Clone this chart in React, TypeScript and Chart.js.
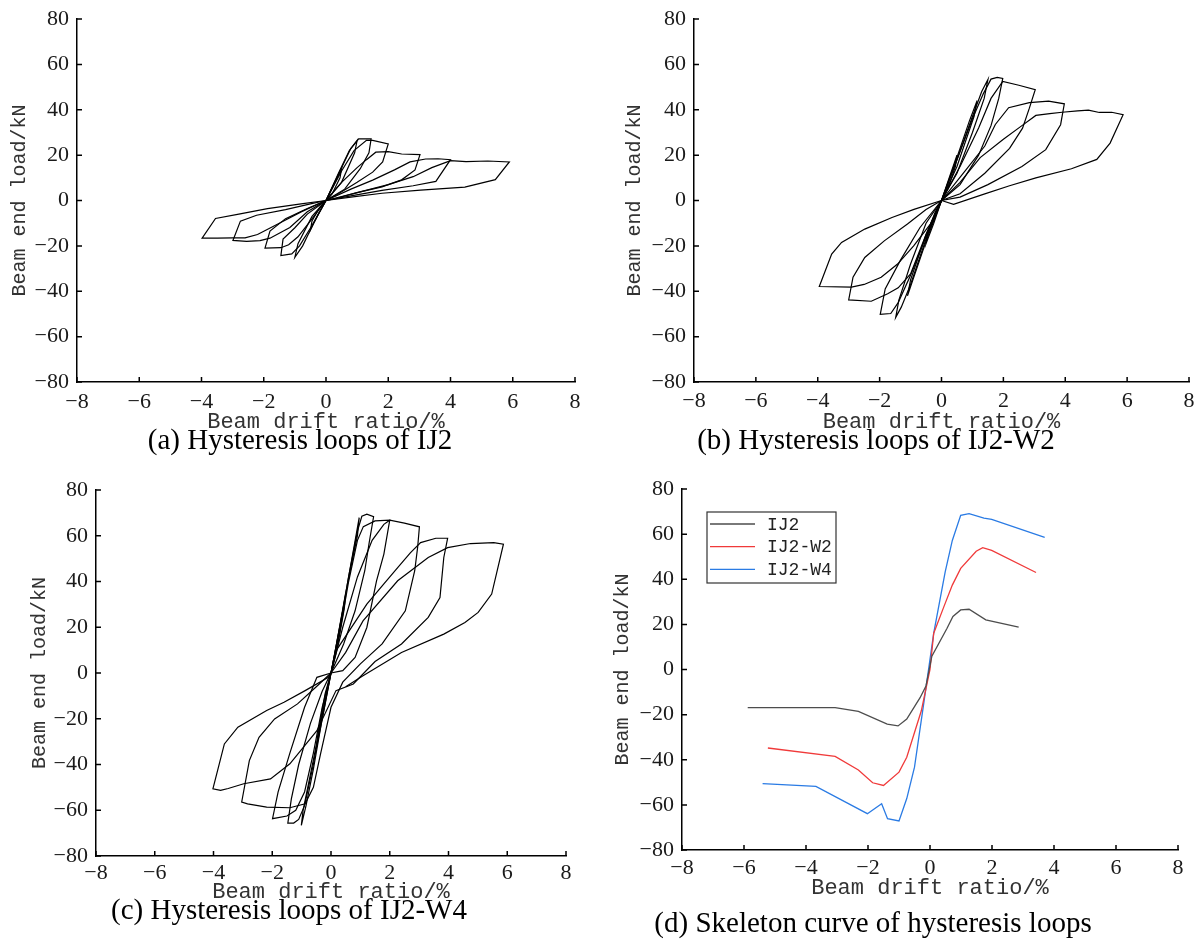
import React, { useEffect, useRef } from 'react';
import { Chart, registerables } from 'chart.js';

Chart.register(...registerables);

type Pt = [number, number];

// ---------- Axis ticks ----------
const X_MIN = -8, X_MAX = 8, X_STEP = 2;
const Y_MIN = -80, Y_MAX = 80, Y_STEP = 20;
const X_TITLE = 'Beam drift ratio/%';
const Y_TITLE = 'Beam end load/kN';

// ---------- (a) IJ2 hysteresis cycles ----------
const IJ2_LOOP_1: Pt[] = [[0,0],[0.25,7],[0.5,14],[0.45,10],[0.2,3],[0,0],[-0.25,-6],[-0.5,-13],[-0.45,-9],[-0.2,-3],[0,0]];
const IJ2_LOOP_2: Pt[] = [[0,0],[0.4,12],[0.75,22],[1.0,26.5],[0.92,21],[0.5,8],[0,0],[-0.4,-10],[-0.75,-20],[-1.0,-25],[-0.9,-19],[-0.45,-7],[0,0]];
const IJ2_LOOP_3: Pt[] = [[0,0],[0.45,13],[0.8,23],[1.05,27.2],[1.45,27.2],[1.38,21],[1.1,14],[0.6,5],[0,0],[-0.45,-11],[-0.85,-20],[-1.1,-23.5],[-1.45,-24.3],[-1.38,-17],[-1.0,-12],[-0.6,-6],[0,0]];
const IJ2_LOOP_4: Pt[] = [[0,0],[0.5,13],[0.9,22],[1.3,26.5],[1.5,26.5],[2.0,24.9],[1.82,17],[1.5,12.5],[1.0,8],[0.4,3],[0,0],[-0.5,-9],[-0.9,-16],[-1.2,-19.5],[-1.45,-20.8],[-1.96,-21],[-1.8,-13.5],[-1.3,-8],[-0.6,-3.5],[0,0]];
const IJ2_LOOP_5: Pt[] = [[0,0],[0.5,8],[1.0,14.5],[1.3,18],[1.6,21.3],[2.0,21.5],[2.43,20.5],[3.02,20.2],[2.86,13.5],[2.43,9.1],[1.8,6],[1.0,3.5],[0.4,1.2],[0,0],[-0.6,-5],[-1.16,-11.9],[-1.8,-16.6],[-2.12,-17.7],[-2.55,-18.0],[-2.99,-17.6],[-2.75,-9.1],[-2.23,-6.5],[-1.3,-4],[-0.5,-1.5],[0,0]];
const IJ2_LOOP_6: Pt[] = [[0,0],[0.8,5],[1.5,9],[2.2,13.5],[2.7,17],[3.2,18.3],[3.6,18.4],[4.0,18.0],[3.53,8.4],[2.8,6.5],[1.8,4.5],[0.8,2],[0,0],[-0.8,-5],[-1.5,-10],[-2.2,-15],[-2.6,-16.5],[-3.0,-16.5],[-3.5,-16.6],[-3.98,-16.6],[-3.55,-7.9],[-2.8,-6],[-1.88,-3.6],[-0.8,-1.5],[0,0]];
const IJ2_LOOP_7: Pt[] = [[0,0],[1.0,3.5],[2.0,7],[2.8,10.5],[3.4,14.5],[4.0,17.6],[4.5,17.1],[5.2,17.4],[5.89,17.0],[5.44,9.2],[4.46,5.9],[3.04,4.6],[1.8,3.2],[0.8,1.5],[0,0]];

// ---------- (b) IJ2-W2 hysteresis cycles ----------
const W2_LOOP_1: Pt[] = [[0,0],[0.25,10],[0.5,20],[0.45,15],[0.2,5],[0,0],[-0.25,-10],[-0.5,-19],[-0.45,-14],[-0.2,-5],[0,0]];
const W2_LOOP_2: Pt[] = [[0,0],[0.5,19],[0.9,35],[1.15,44],[1.05,37],[0.5,15],[0,0],[-0.5,-18],[-0.9,-34],[-1.1,-42],[-1.0,-35],[-0.5,-15],[0,0]];
const W2_LOOP_3: Pt[] = [[0,0],[0.5,18],[1.0,37],[1.3,48],[1.5,53.3],[1.38,45],[1.0,30],[0.5,12],[0,0],[-0.5,-17],[-1.0,-37],[-1.3,-47],[-1.48,-51.5],[-1.38,-44],[-1.0,-28],[-0.5,-10],[0,0]];
const W2_LOOP_4: Pt[] = [[0,0],[0.5,18],[1.0,36],[1.35,47],[1.6,53.5],[1.8,54.3],[1.98,53.8],[1.85,45],[1.6,33],[1.2,20],[0.6,7],[0,0],[-0.5,-16],[-1.0,-33],[-1.4,-45],[-1.64,-49.8],[-1.98,-50.2],[-1.82,-39],[-1.33,-26.4],[-0.7,-12],[0,0]];
const W2_LOOP_5: Pt[] = [[0,0],[0.6,15],[1.2,32],[1.6,45],[1.98,52.5],[2.5,50.8],[3.03,48.9],[2.84,40.7],[2.62,31.9],[2.2,23],[1.4,12],[0.6,3],[0,0],[-0.5,-15],[-1.0,-32.4],[-1.4,-38.5],[-1.74,-41.1],[-2.27,-44.4],[-3.0,-43.8],[-2.86,-33.8],[-2.48,-25.1],[-1.85,-17.8],[-1.1,-10.4],[-0.5,-4],[0,0]];
const W2_LOOP_6: Pt[] = [[0,0],[0.7,12],[1.4,24],[1.74,33.5],[2.17,40.9],[2.84,43.1],[3.46,43.8],[3.97,42.6],[3.85,33.4],[3.37,22.4],[2.6,15],[1.5,7],[0.6,1.5],[0,0],[-0.36,-10.4],[-0.9,-20],[-1.42,-28],[-1.95,-33.8],[-2.5,-37],[-2.91,-38.2],[-3.95,-37.9],[-3.55,-23.6],[-3.23,-18.5],[-2.48,-12.6],[-1.6,-7.5],[-0.89,-3.9],[0,0]];
const W2_LOOP_7: Pt[] = [[0,0],[0.6,8],[1.25,18.9],[2.0,27],[2.6,33],[3.05,37.5],[3.5,38.3],[3.9,38.9],[4.4,39.5],[4.75,39.8],[5.1,38.8],[5.5,38.9],[5.87,37.8],[5.45,25.3],[5.02,18.1],[4.2,14],[3.05,10.0],[2.2,6.5],[1.35,2.7],[0.39,-1.7],[0,0]];

// ---------- (c) IJ2-W4 hysteresis cycles ----------
const W4_LOOP_1: Pt[] = [[0,0],[0.25,17],[0.5,34],[0.45,28],[0.2,10],[0,0],[-0.25,-17],[-0.5,-33],[-0.45,-27],[-0.2,-9],[0,0]];
const W4_LOOP_2: Pt[] = [[0,0],[0.3,20],[0.6,42],[0.85,60],[0.96,67.9],[0.9,60],[0.5,35],[0.15,10],[0,0],[-0.3,-20],[-0.6,-42],[-0.85,-58],[-1.01,-66.6],[-0.95,-60],[-0.6,-38],[-0.2,-12],[0,0]];
const W4_LOOP_3: Pt[] = [[0,0],[0.3,20],[0.6,42],[0.9,62],[1.05,68.5],[1.22,69.4],[1.45,68.3],[1.3,57],[1.15,44.7],[0.82,27.2],[0.43,12.7],[0,0],[-0.3,-18],[-0.6,-40],[-0.9,-58],[-1.1,-64],[-1.27,-65.6],[-1.47,-65.6],[-1.35,-55],[-1.1,-40],[-0.7,-22],[-0.3,-8],[0,0]];
const W4_LOOP_4: Pt[] = [[0,0],[0.3,18],[0.6,40],[0.9,58],[1.1,64],[1.5,66.5],[2.0,66.8],[1.8,52],[1.55,40.3],[1.22,19.9],[0.82,6.8],[0.4,1],[0,0],[-0.3,-15],[-0.6,-35],[-0.9,-52],[-1.2,-60],[-1.5,-62.5],[-1.99,-63.7],[-1.8,-52],[-1.4,-35],[-0.9,-15],[-0.48,-1.9],[0,0]];
const W4_LOOP_5: Pt[] = [[0,0],[0.4,20],[0.9,42],[1.4,58],[1.8,65],[2.0,66.8],[2.5,65.5],[3.01,63.9],[2.95,55],[2.85,44.7],[2.53,27.2],[1.74,12.7],[1.0,4],[0.4,-4],[0,-15],[-0.35,-35],[-0.6,-50],[-0.88,-57.2],[-1.4,-58.9],[-2.19,-58.6],[-2.84,-57.2],[-3.04,-56.4],[-2.78,-38.3],[-2.45,-28.1],[-1.92,-20.1],[-1.14,-13.5],[-0.5,-6],[0,0]];
const W4_LOOP_6: Pt[] = [[0,0],[0.17,9.7],[1.22,30.1],[1.8,39],[2.27,46.1],[2.7,52.5],[3.05,57],[3.57,58.9],[3.97,58.9],[3.84,50.5],[3.71,33],[3.31,24.3],[2.4,12.7],[1.5,5],[0.76,-4.8],[0.17,-7.7],[-0.48,-25.2],[-1.4,-39.7],[-2.06,-46.3],[-2.97,-48.4],[-3.5,-50.5],[-3.76,-51.3],[-4.02,-50.6],[-3.63,-31],[-3.17,-23.7],[-2.19,-16.4],[-1.6,-12.8],[-0.88,-7.7],[-0.09,-1.9],[0,0]];
const W4_LOOP_7: Pt[] = [[0,0],[0.5,9],[1.09,22.8],[2.27,40.3],[3.31,50.5],[3.97,54.8],[4.75,56.6],[5.54,57.0],[5.87,56.3],[5.47,34.5],[5.01,26.5],[4.56,22.1],[3.84,17.0],[2.4,9.0],[1.09,-1.2],[0.5,-6]];

// ---------- (d) skeleton curves ----------
const SKELETON_LABELS = ['IJ2', 'IJ2-W2', 'IJ2-W4'];
const SKELETON_COLORS = ['#4d4d4d', '#f03a3a', '#2a7be4'];
const SKELETON_IJ2: Pt[] = [[-5.88,-16.9],[-3.06,-16.9],[-2.31,-18.6],[-1.38,-24.2],[-1.03,-25.0],[-0.75,-22.0],[-0.32,-12.5],[-0.13,-7.3],[0.06,5.9],[0.55,18.3],[0.74,23.5],[0.99,26.4],[1.26,26.7],[1.8,22.0],[2.86,18.8]];
const SKELETON_W2: Pt[] = [[-5.23,-34.8],[-3.06,-38.5],[-2.31,-44.5],[-1.85,-50.2],[-1.5,-51.4],[-1.0,-45.5],[-0.75,-38.9],[-0.28,-18.3],[0,0],[0.12,16.1],[0.43,27.2],[0.72,37.4],[0.99,44.8],[1.49,52.4],[1.7,54.0],[1.99,52.8],[3.42,43.0]];
const SKELETON_W4: Pt[] = [[-5.4,-50.6],[-3.68,-51.8],[-2.02,-63.9],[-1.56,-59.5],[-1.37,-66.1],[-1.0,-67.1],[-0.75,-57.2],[-0.5,-43.3],[-0.19,-13.9],[0.12,16.1],[0.49,43.3],[0.72,57.2],[0.99,68.3],[1.26,69.1],[1.74,67.1],[1.99,66.5],[3.7,58.6]];

const CAPTIONS = [
  '(a) Hysteresis loops of IJ2',
  '(b) Hysteresis loops of IJ2-W2',
  '(c) Hysteresis loops of IJ2-W4',
  '(d) Skeleton curve of hysteresis loops',
];

// ---------- helpers ----------
const toXY = (pts: Pt[]) => pts.map(([x, y]) => ({ x, y }));

const loopDatasets = (loops: Pt[][]) =>
  loops.map((l, i) => ({
    label: 'cycle ' + (i + 1),
    data: toXY(l),
    showLine: true,
    borderColor: '#000',
    borderWidth: 1.2,
    pointRadius: 0,
    tension: 0,
    fill: false,
  }));

const skeletonDatasets = () =>
  [SKELETON_IJ2, SKELETON_W2, SKELETON_W4].map((s, i) => ({
    label: SKELETON_LABELS[i],
    data: toXY(s),
    showLine: true,
    borderColor: SKELETON_COLORS[i],
    borderWidth: 1.3,
    pointRadius: 0,
    tension: 0,
    fill: false,
  }));

const fmt = (v: number) => (v < 0 ? '\u2212' + Math.abs(v) : String(v));

const decorPlugin = {
  id: 'decor',
  afterDraw(chart: any, _args: any, opts: any) {
    const { ctx, chartArea } = chart;
    const xs = chart.scales.x;
    const ys = chart.scales.y;
    ctx.save();
    // inward tick marks
    ctx.strokeStyle = '#000';
    ctx.lineWidth = 1.5;
    ctx.beginPath();
    xs.ticks.forEach((t: any) => {
      const p = xs.getPixelForValue(t.value);
      ctx.moveTo(p, chartArea.bottom);
      ctx.lineTo(p, chartArea.bottom - 5);
    });
    ys.ticks.forEach((t: any) => {
      const p = ys.getPixelForValue(t.value);
      ctx.moveTo(chartArea.left, p);
      ctx.lineTo(chartArea.left + 5, p);
    });
    ctx.stroke();

    // legend (inside chart area)
    if (opts.legend) {
      const L = opts.legend;
      ctx.strokeStyle = '#333';
      ctx.lineWidth = 1.2;
      ctx.strokeRect(L.x, L.y, L.w, L.h);
      ctx.font = '18px "Liberation Mono"';
      ctx.textAlign = 'left';
      ctx.textBaseline = 'middle';
      chart.data.datasets.forEach((ds: any, i: number) => {
        const cy = L.y + L.first + i * L.rowH;
        ctx.strokeStyle = ds.borderColor;
        ctx.lineWidth = 1.3;
        ctx.beginPath();
        ctx.moveTo(L.x + 3, cy);
        ctx.lineTo(L.x + 3 + L.lineLen, cy);
        ctx.stroke();
        ctx.fillStyle = '#222';
        ctx.fillText(ds.label, L.textX, cy + 1);
      });
    }

    // caption
    ctx.font = '29px "Liberation Serif"';
    ctx.fillStyle = '#000';
    ctx.textAlign = 'center';
    ctx.textBaseline = 'alphabetic';
    ctx.fillText(opts.caption, opts.captionX, opts.captionY);
    ctx.restore();
  },
};

type Spec = {
  left: number; top: number; width: number; height: number;
  L: number; T: number; R: number; B: number; xH: number;
  xPad: number; yTitlePad: number;
  caption: string; captionX: number; captionY: number;
  datasets: any[]; legend?: any;
};

function makeConfig(s: Spec): any {
  return {
    type: 'scatter',
    data: { datasets: s.datasets },
    options: {
      animation: false,
      responsive: false,
      events: [],
      layout: { padding: { left: 0, top: s.T, right: s.width - s.R, bottom: s.height - s.B - s.xH } },
      plugins: {
        legend: { display: false },
        tooltip: { enabled: false },
        decor: { caption: s.caption, captionX: s.captionX, captionY: s.captionY, legend: s.legend },
      },
      scales: {
        x: {
          type: 'linear', min: X_MIN, max: X_MAX,
          afterFit: (sc: any) => { sc.height = s.xH; },
          grid: { display: false, drawTicks: false },
          border: { display: true, color: '#000', width: 1.5 },
          ticks: {
            stepSize: X_STEP, padding: s.xPad, color: '#1a1a1a',
            font: { family: '"Liberation Serif"', size: 22, lineHeight: 1 },
            callback: (v: any) => fmt(Number(v)),
            maxRotation: 0, autoSkip: false,
          },
          title: {
            display: true, text: X_TITLE, color: '#333',
            font: { family: '"Liberation Mono"', size: 22, lineHeight: 1 },
            padding: { top: 0, bottom: 3 },
          },
        },
        y: {
          type: 'linear', min: Y_MIN, max: Y_MAX,
          afterFit: (sc: any) => { sc.width = s.L; },
          grid: { display: false, drawTicks: false },
          border: { display: true, color: '#000', width: 1.5 },
          ticks: {
            stepSize: Y_STEP, padding: 8, color: '#1a1a1a',
            font: { family: '"Liberation Serif"', size: 22, lineHeight: 1 },
            callback: (v: any) => fmt(Number(v)),
            autoSkip: false,
          },
          title: {
            display: true, text: Y_TITLE, color: '#333',
            font: { family: '"Liberation Mono"', size: 20, lineHeight: 1 },
            padding: { top: s.yTitlePad, bottom: 0 },
          },
        },
      },
    },
    plugins: [decorPlugin],
  };
}

function Panel({ spec }: { spec: Spec }) {
  const ref = useRef<HTMLCanvasElement>(null);
  useEffect(() => {
    const chart = new Chart(ref.current as HTMLCanvasElement, makeConfig(spec));
    return () => chart.destroy();
  }, [spec]);
  return (
    <canvas
      ref={ref}
      width={spec.width}
      height={spec.height}
      style={{ position: 'absolute', left: spec.left, top: spec.top, width: spec.width, height: spec.height }}
    />
  );
}

const SPECS: Spec[] = [
  {
    left: 0, top: 0, width: 600, height: 470,
    L: 77, T: 17, R: 575, B: 382, xH: 54, xPad: 9, yTitlePad: 10,
    caption: CAPTIONS[0], captionX: 300, captionY: 449,
    datasets: loopDatasets([IJ2_LOOP_1, IJ2_LOOP_2, IJ2_LOOP_3, IJ2_LOOP_4, IJ2_LOOP_5, IJ2_LOOP_6, IJ2_LOOP_7]),
  },
  {
    left: 600, top: 0, width: 603, height: 470,
    L: 94, T: 17, R: 595, B: 382, xH: 54.5, xPad: 8.5, yTitlePad: 25,
    caption: CAPTIONS[1], captionX: 276, captionY: 449,
    datasets: loopDatasets([W2_LOOP_1, W2_LOOP_2, W2_LOOP_3, W2_LOOP_4, W2_LOOP_5, W2_LOOP_6, W2_LOOP_7]),
  },
  {
    left: 0, top: 470, width: 600, height: 470,
    L: 96, T: 20, R: 566, B: 386, xH: 50.5, xPad: 6.5, yTitlePad: 30,
    caption: CAPTIONS[2], captionX: 289, captionY: 449,
    datasets: loopDatasets([W4_LOOP_1, W4_LOOP_2, W4_LOOP_3, W4_LOOP_4, W4_LOOP_5, W4_LOOP_6, W4_LOOP_7]),
  },
  {
    left: 600, top: 470, width: 603, height: 470,
    L: 82, T: 17, R: 578, B: 380, xH: 52.5, xPad: 7.5, yTitlePad: 13,
    caption: CAPTIONS[3], captionX: 273, captionY: 462,
    datasets: skeletonDatasets(),
    legend: { x: 107, y: 42, w: 129, h: 71, first: 12, rowH: 22.7, lineLen: 45, textX: 167 },
  },
];

export default function App() {
  return (
    <div style={{ position: 'absolute', left: 0, top: 0, width: 1203, height: 940, background: '#fff', overflow: 'hidden' }}>
      {SPECS.map((s, i) => (
        <Panel key={i} spec={s} />
      ))}
    </div>
  );
}
